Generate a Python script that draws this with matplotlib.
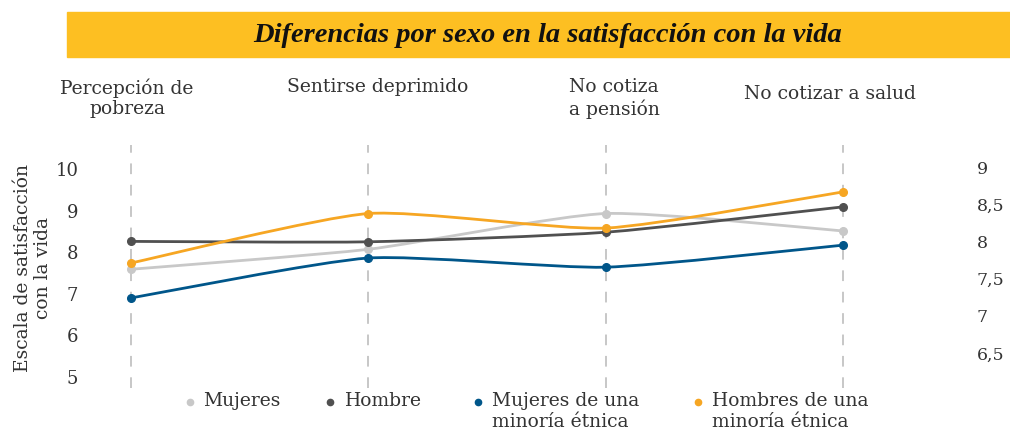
import matplotlib
matplotlib.use("Agg")
import matplotlib.pyplot as plt
import numpy as np
from matplotlib.path import Path
from matplotlib.patches import PathPatch, Rectangle
from matplotlib.lines import Line2D

categories = ["Percepción de\npobreza", "Sentirse deprimido", "No cotiza\na pensión", "No cotizar a salud"]
mujeres = [7.59, 8.07, 8.93, 8.51]
hombre = [8.26, 8.25, 8.48, 9.09]
mujeres_minoria = [6.90, 7.86, 7.64, 8.17]
hombres_minoria = [7.74, 8.93, 8.58, 9.45]
series_labels = ["Mujeres", "Hombre", "Mujeres de una\nminoría étnica", "Hombres de una\nminoría étnica"]
left_ticks = [5, 6, 7, 8, 9, 10]
right_ticks = [6.5, 7, 7.5, 8, 8.5, 9]

colors = ["#c8c8c8", "#505050", "#00568a", "#f6a623"]
FONT = "DejaVu Serif"
TXT = "#333333"

plt.rcParams["font.family"] = FONT

W, H = 1010, 437
fig = plt.figure(figsize=(W / 100, H / 100), dpi=100)


def fx(px):
    return px / W


def fy(py):
    return 1 - py / H


# axes box in pixels
ax_l, ax_r, ax_t, ax_b = 95, 960, 145, 388
ax = fig.add_axes([fx(ax_l), fy(ax_b), fx(ax_r - ax_l), (ax_b - ax_t) / H])

x = np.arange(len(categories))
step = (843 - 131) / 3
ax.set_xlim(-(131 - ax_l) / step, 3 + (ax_r - 843) / step)
ax.set_ylim(4.736, 10.577)


def smooth_path(xs, ys, t=0.1):
    pts = np.column_stack([xs, ys]).astype(float)
    ext = np.vstack([pts[0], pts, pts[-1]])
    verts = [pts[0]]
    codes = [Path.MOVETO]
    for i in range(len(pts) - 1):
        p_prev, p0, p1, p_next = ext[i], ext[i + 1], ext[i + 2], ext[i + 3]
        c1 = p0 + (p1 - p_prev) * t
        c2 = p1 - (p_next - p0) * t
        verts += [c1, c2, p1]
        codes += [Path.CURVE4] * 3
    return Path(verts, codes)


for xi in x:
    ax.axvline(xi, color="#b8b8b8", lw=1.1, dashes=(7, 7), zorder=1)

for vals, c in zip([mujeres, hombre, mujeres_minoria, hombres_minoria], colors):
    ax.add_patch(PathPatch(smooth_path(x, vals), fill=False, edgecolor=c, lw=2.0,
                           transform=ax.transData, zorder=3, capstyle="round"))
    ax.plot(x, vals, "o", color=c, ms=5.5, zorder=4)

for s in ax.spines.values():
    s.set_visible(False)
ax.set_xticks([])
ax.set_yticks(left_ticks)
ax.set_yticklabels([str(v) for v in left_ticks])
ax.tick_params(axis="y", length=0, pad=12, labelsize=13, labelcolor=TXT)

ax2 = ax.twinx()
ax2.set_ylim(6.030, 9.296)
ax2.set_yticks(right_ticks)
ax2.set_yticklabels([f"{v:g}".replace(".", ",") for v in right_ticks])
ax2.tick_params(axis="y", length=0, pad=12, labelsize=12.5, labelcolor=TXT)
for s in ax2.spines.values():
    s.set_visible(False)

# title banner
fig.patches.append(Rectangle((fx(67), fy(57)), fx(W - 67), (57 - 12) / H,
                             transform=fig.transFigure, color="#fdbf22", zorder=0))
fig.text(fx(548), fy(36), "Diferencias por sexo en la satisfacción con la vida",
         ha="center", va="center", fontsize=20.5, fontstyle="italic", fontweight="bold",
         color="#111111", family="Liberation Serif")

# category labels (top of first line in pixels)
cat_pos = [(127, 78), (378, 78), (614, 78), (830, 85)]
for lab, (px, py) in zip(categories, cat_pos):
    fig.text(fx(px), fy(py), lab, ha="center", va="top", fontsize=13.5, color=TXT,
             linespacing=1.2)

fig.text(fx(33), fy(268), "Escala de satisfacción\ncon la vida", rotation=90,
         ha="center", va="center", fontsize=13.5, color=TXT, linespacing=1.15)

# legend, drawn by hand so the dots sit on the first text line
leg_x = [(190, 203), (330, 345), (478, 492), (698, 712)]
for (mx, tx), lab, c in zip(leg_x, series_labels, colors):
    fig.add_artist(Line2D([fx(mx)], [fy(402)], marker="o", ls="none", color=c, ms=4.5,
                          transform=fig.transFigure))
    fig.text(fx(tx), fy(392), lab, ha="left", va="top", fontsize=13.5, color=TXT,
             linespacing=1.2)

fig.savefig("out.png", dpi=100)
